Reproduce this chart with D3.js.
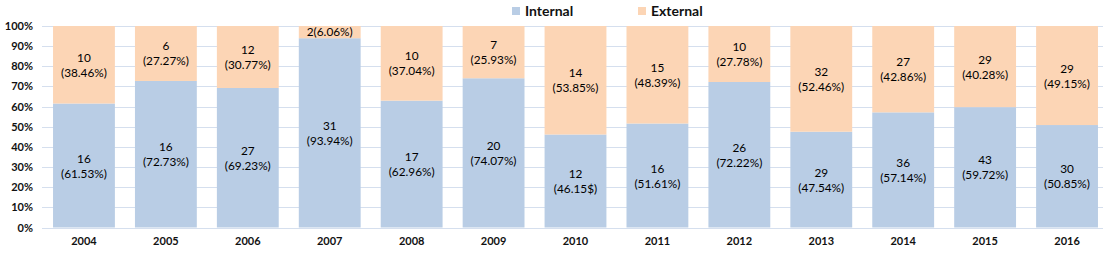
<!DOCTYPE html>
<html>
<head>
<meta charset="utf-8">
<script src="https://cdn.jsdelivr.net/npm/d3@7"></script>
<style>
  body { margin: 0; background: #fff; }
  text { font-family: Lato, "Open Sans", sans-serif; fill: #111; }
</style>
</head>
<body>
<div id="container"></div>
<script>
// chart data
const years = ["2004","2005","2006","2007","2008","2009","2010","2011","2012","2013","2014","2015","2016"];
const internalCount = [16,16,27,31,17,20,12,16,26,29,36,43,30];
const externalCount = [10,6,12,2,10,7,14,15,10,32,27,29,29];
const internalPct = [61.53,72.73,69.23,93.94,62.96,74.07,46.15,51.61,72.22,47.54,57.14,59.72,50.85];
const externalPct = [38.46,27.27,30.77,6.06,37.04,25.93,53.85,48.39,27.78,52.46,42.86,40.28,49.15];
// label text as printed (kept with its typos)
const internalLabel = ["61.53%","72.73%","69.23%","93.94%","62.96%","74.07%","46.15$","51.61%","72.22%","47.54%","57.14%","59.72%","50.85%"];
const externalLabel = ["38.46%","27.27%","30.77%","6.06%","37.04%","25.93%","53.85%","48.39%","27.78%","52.46%","42.86%","40.28%","49.15%"];
const yTicks = [0,10,20,30,40,50,60,70,80,90,100];

const width = 1103, height = 254;
const margin = { top: 26, right: -5, bottom: 26.5, left: 43 };
const colors = { internal: "#B9CDE5", external: "#FCD5B5" };

let svg = d3.select("#container").append("svg")
    .attr("width", width)
    .attr("height", height);

let x = d3.scaleBand()
    .domain(years)
    .range([margin.left, width - margin.right])
    .paddingInner(0.245)
    .paddingOuter(0.1225);

let y = d3.scaleLinear()
    .domain([0, 100])
    .range([height - margin.bottom, margin.top]);

// gridlines
svg.append("g")
    .selectAll("line")
    .data(yTicks)
    .enter()
    .append("line")
    .attr("x1", 42)
    .attr("x2", width)
    .attr("y1", d => Math.round(y(d)) + 0.5)
    .attr("y2", d => Math.round(y(d)) + 0.5)
    .attr("stroke", "#D5DFEE")
    .attr("stroke-width", 1);

// y axis labels
let yAxis = svg.append("g")
    .attr("transform", `translate(${margin.left - 10},0)`)
    .call(d3.axisLeft(y).tickValues(yTicks).tickFormat(d => d + "%").tickSize(0));
yAxis.select(".domain").remove();
yAxis.selectAll("text")
    .attr("x", 0)
    .style("font-size", "11px")
    .style("font-weight", "bold");

// x axis labels
let xAxis = svg.append("g")
    .attr("transform", `translate(0,${height - margin.bottom})`)
    .call(d3.axisBottom(x).tickSize(0));
xAxis.select(".domain").remove();
xAxis.selectAll("text")
    .attr("y", 10)
    .style("font-size", "11px")
    .style("font-weight", "bold");

// bars
let rows = years.map((yr, i) => ({
    year: yr,
    inC: internalCount[i], exC: externalCount[i],
    inP: internalPct[i], exP: externalPct[i],
    inL: internalLabel[i], exL: externalLabel[i]
}));

let bars = svg.append("g");
bars.selectAll(".bar-in")
    .data(rows)
    .enter()
    .append("rect")
    .attr("class", "bar-in")
    .attr("x", d => x(d.year))
    .attr("width", x.bandwidth())
    .attr("y", d => y(d.inP))
    .attr("height", d => y(0) - y(d.inP))
    .attr("fill", colors.internal);

bars.selectAll(".bar-ex")
    .data(rows)
    .enter()
    .append("rect")
    .attr("class", "bar-ex")
    .attr("x", d => x(d.year))
    .attr("width", x.bandwidth())
    .attr("y", d => y(100))
    .attr("height", d => y(d.inP) - y(100))
    .attr("fill", colors.external);

// data labels
function addLabel(g, cx, cy, count, pct, oneLine) {
    let t = g.append("text")
        .attr("text-anchor", "middle")
        .style("font-size", "11.8px")
        .style("fill", "#000");
    if (oneLine) {
        t.attr("x", cx).attr("y", cy + 4).text(`${count}(${pct})`);
        return;
    }
    t.append("tspan").attr("x", cx).attr("y", cy - 3).text(count);
    t.append("tspan").attr("x", cx).attr("y", cy + 12).text(`(${pct})`);
}

let labels = svg.append("g");
rows.forEach(d => {
    let cx = x(d.year) + x.bandwidth() / 2;
    addLabel(labels, cx, (y(0) + y(d.inP)) / 2, d.inC, d.inL, false);
    addLabel(labels, cx, (y(d.inP) + y(100)) / 2, d.exC, d.exL, d.exP < 10);
});

// legend
let legend = svg.append("g").style("font-size", "14px").style("font-weight", "bold");
[["Internal", colors.internal, 512], ["External", colors.external, 638]].forEach(([name, c, lx]) => {
    legend.append("rect")
        .attr("x", lx).attr("y", 7)
        .attr("width", 8).attr("height", 8)
        .attr("fill", c);
    legend.append("text")
        .attr("x", lx + 13).attr("y", 16)
        .text(name);
});
</script>
</body>
</html>
